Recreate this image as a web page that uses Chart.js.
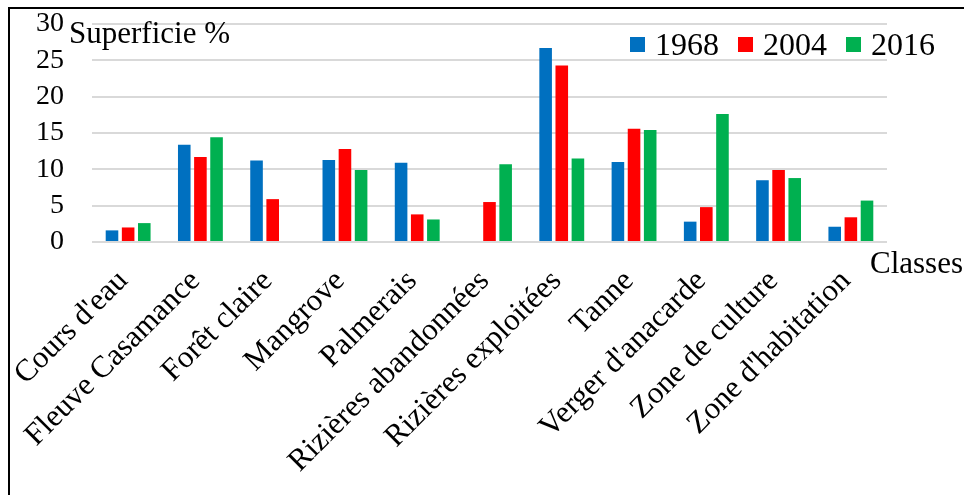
<!DOCTYPE html>
<html>
<head>
<meta charset="utf-8">
<script src="https://cdn.jsdelivr.net/npm/chart.js@4"></script>
<style>
  html, body { margin: 0; padding: 0; background: #fff; }
  #wrap { position: relative; width: 964px; height: 495px; overflow: hidden; }
  #frame { position: absolute; left: 8px; top: 7px; width: 1000px; height: 600px;
           border-left: 2px solid #000; border-top: 2px solid #000; }
  canvas { position: absolute; left: 0; top: 0; }
</style>
</head>
<body>
<div id="wrap">
  <div id="frame"></div>
  <canvas id="chart" width="964" height="495"></canvas>
</div>
<script>
const classes = ["Cours d'eau", "Fleuve Casamance", "Forêt claire", "Mangrove", "Palmerais",
    "Rizières abandonnées", "Rizières exploitées", "Tanne", "Verger d'anacarde",
    "Zone de culture", "Zone d'habitation"];
const years = ["1968", "2004", "2016"];
const values1968 = [1.6, 13.4, 11.2, 11.3, 10.9, 0, 26.7, 11.0, 2.8, 8.5, 2.1];
const values2004 = [2.0, 11.7, 5.9, 12.8, 3.8, 5.5, 24.3, 15.6, 4.8, 9.9, 3.4];
const values2016 = [2.6, 14.4, 0, 9.9, 3.1, 10.7, 11.5, 15.4, 17.6, 8.8, 5.7];
const yTicks = [0, 5, 10, 15, 20, 25, 30];

const colors = ['#0070c0', '#ff0000', '#00b050'];
const serif = "'Liberation Serif', 'Times New Roman', serif";

// legend and axis captions, drawn on top of the chart
const extras = {
    id: 'extras',
    afterDraw(chart) {
        const ctx = chart.ctx;
        ctx.save();
        ctx.fillStyle = '#000';
        ctx.textBaseline = 'alphabetic';
        ctx.font = '31px ' + serif;
        ctx.fillText('Superficie %', 69, 43);
        ctx.fillText('Classes', 870, 273);

        const starts = [630, 738, 846];
        ctx.font = '32px ' + serif;
        chart.data.datasets.forEach((ds, i) => {
            ctx.fillStyle = ds.backgroundColor;
            ctx.fillRect(starts[i], 37, 15, 15);
            ctx.fillStyle = '#000';
            ctx.fillText(ds.label, starts[i] + 25, 55);
        });
        ctx.restore();
    }
};

new Chart(document.getElementById('chart'), {
    type: 'bar',
    data: {
        labels: classes,
        datasets: [
            { label: years[0], data: values1968, backgroundColor: colors[0] },
            { label: years[1], data: values2004, backgroundColor: colors[1] },
            { label: years[2], data: values2016, backgroundColor: colors[2] }
        ]
    },
    options: {
        responsive: false,
        animation: false,
        layout: { padding: { top: 24, right: 77, bottom: 0, left: 0 } },
        datasets: {
            bar: { categoryPercentage: 0.67, barPercentage: 0.78 }
        },
        plugins: {
            legend: { display: false },
            tooltip: { enabled: false }
        },
        scales: {
            x: {
                grid: { display: false },
                border: { display: false },
                afterFit(scale) {
                    scale.height = 253;
                    scale.paddingLeft = 0;
                    scale.paddingRight = 0;
                },
                ticks: {
                    autoSkip: false,
                    minRotation: 45,
                    maxRotation: 45,
                    padding: 13,
                    labelOffset: -5,
                    color: '#000',
                    font: { family: serif, size: 31 }
                }
            },
            y: {
                min: 0,
                max: 30,
                afterFit(scale) {
                    scale.width = 92;
                    scale.paddingTop = 0;
                    scale.paddingBottom = 0;
                },
                afterBuildTicks(scale) { scale.ticks = yTicks.map(v => ({ value: v })); },
                grid: { color: '#d9d9d9', lineWidth: 2, drawTicks: false },
                border: { display: false },
                ticks: {
                    autoSkip: false,
                    padding: 28,
                    color: '#000',
                    font: { family: serif, size: 28 }
                }
            }
        }
    },
    plugins: [extras]
});
</script>
</body>
</html>
